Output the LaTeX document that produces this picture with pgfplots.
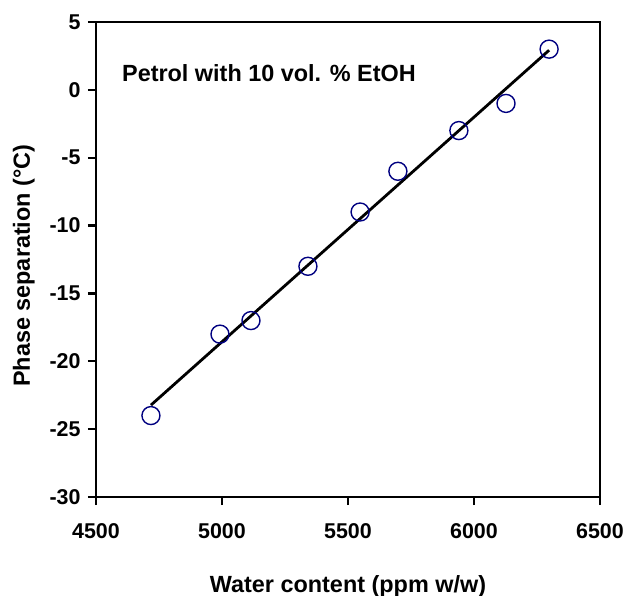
\documentclass[border=0pt]{standalone}
\usepackage{fontspec}
\setmainfont{Liberation Sans}
\usepackage{pgfplots}
\usepackage{pgfplotstable}
\pgfplotsset{compat=1.18}
\definecolor{ptcol}{RGB}{0,0,128}

\pgfplotstableread{
x y
4718 -24
4992 -18
5115 -17
5341 -13
5548 -9
5698 -6
5940 -3
6127 -1
6298 3
}\phasedata

\begin{document}
\begin{tikzpicture}
\begin{axis}[
  scale only axis,
  width=504bp, height=475bp,
  xmin=4500, xmax=6500,
  ymin=-30, ymax=5,
  xtick={4500,5000,...,6500},
  ytick={-30,-25,...,5},
  xtick pos=bottom, ytick pos=left,
  tick align=outside,
  major tick length=8bp,
  tick style={black, line width=2.4bp},
  axis line style={black, line width=2.8bp},
  /pgf/number format/assume math mode=true,
  /pgf/number format/1000 sep={},
  ticklabel style={font=\fontsize{21.5}{26}\selectfont\bfseries},
  xticklabel style={yshift=-15bp},
  yticklabel style={xshift=-4bp},
  xlabel={Water content (ppm w/w)},
  ylabel={Phase separation (\textdegree C)},
  label style={font=\fontsize{23.5}{28}\selectfont\bfseries},
  xlabel style={at={(axis description cs:0.5,0)}, anchor=base, yshift=-95bp},
  ylabel style={at={(axis description cs:-0.131,0.487)}, anchor=base},
  clip=false,
]
\addplot[black, line width=2.8bp, no marks]
  table[x=x, y={create col/linear regression={y=y}}] {\phasedata};
\addplot[only marks, mark=o, mark size=9bp, mark options={draw=ptcol, line width=1.4bp}]
  table[x=x, y=y] {\phasedata};
\node[anchor=base west, inner sep=0pt, font=\fontsize{23.5}{28}\selectfont\bfseries]
  at (axis cs:4603,0.58) {Petrol with 10 vol. \% EtOH};
\coordinate (sw) at (rel axis cs:0,0);
\coordinate (ne) at (rel axis cs:1,1);
\end{axis}
\pgfresetboundingbox
\path ([xshift=-96bp,yshift=-99bp]sw) rectangle ([xshift=29bp,yshift=22bp]ne);
\end{tikzpicture}
\end{document}
